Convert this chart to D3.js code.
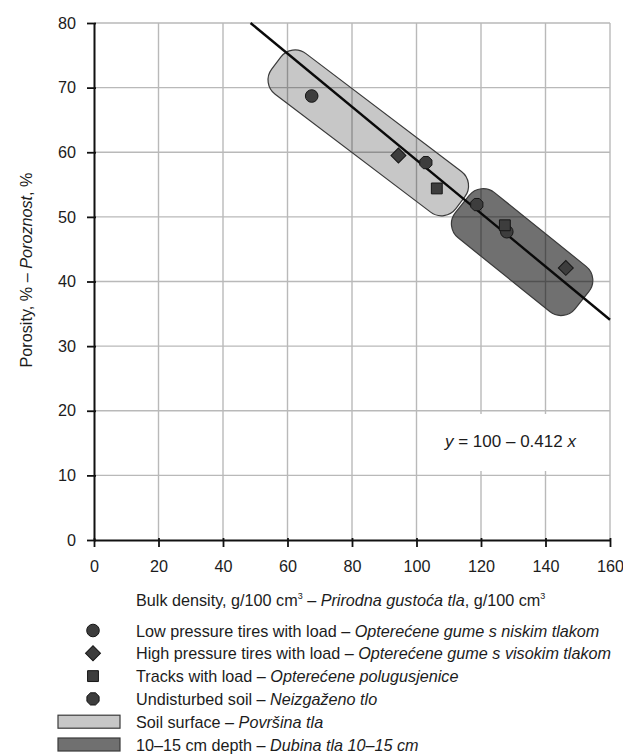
<!DOCTYPE html>
<html>
<head>
<meta charset="utf-8">
<script src="https://cdn.jsdelivr.net/npm/d3@7"></script>
<style>
  html, body { margin: 0; padding: 0; background: #fff; }
  svg { display: block; font-family: Arial, "Liberation Sans", Helvetica, sans-serif; }
</style>
</head>
<body>
<svg id="chart" width="623" height="756"></svg>
<script>
// Tick values
const xTicks = [0, 20, 40, 60, 80, 100, 120, 140, 160];
const yTicks = [0, 10, 20, 30, 40, 50, 60, 70, 80];

// Measurements: [bulk density g/100 cm3, porosity %], first soil surface, then 10–15 cm depth
const lowPressure  = [[67.5, 68.7], [128.0, 47.7]];
const highPressure = [[94.4, 59.5], [146.3, 42.1]];
const tracks       = [[106.3, 54.4], [127.4, 48.7]];
const undisturbed  = [[102.9, 58.4], [118.7, 51.9]];

// Regression line y = 100 - 0.412 x
const fitIntercept = 100;
const fitSlope = -0.412;

// Zones drawn as rounded bands between two axis end points (data units)
const surfaceZone = [[56.5, 73.8], [113.6, 52.2]];
const depthZone   = [[114.2, 52.0], [151.3, 37.1]];

const svg = d3.select("#chart");
const plotLeft = 94, plotRight = 610, plotTop = 23, plotBottom = 540;
const textColor = "#1c1c1c", fontSize = 16.2;

const x = d3.scaleLinear().domain([0, 160]).range([plotLeft, plotRight]);
const y = d3.scaleLinear().domain([0, 80]).range([plotBottom, plotTop]);

// Grid
const grid = svg.append("g");
grid.selectAll("line.v").data(xTicks.filter(d => d > 0)).join("line")
  .attr("x1", d => x(d)).attr("x2", d => x(d))
  .attr("y1", plotTop).attr("y2", plotBottom)
  .attr("stroke", "#b9b9b9").attr("stroke-width", 1.4);
grid.selectAll("line.h").data(yTicks.filter(d => d > 0)).join("line")
  .attr("x1", plotLeft).attr("x2", plotRight)
  .attr("y1", d => y(d)).attr("y2", d => y(d))
  .attr("stroke", "#b9b9b9").attr("stroke-width", 1.4);

// Zones
function drawZone(ends, opacity, halfWidth) {
  const p1 = [x(ends[0][0]), y(ends[0][1])];
  const p2 = [x(ends[1][0]), y(ends[1][1])];
  const len = Math.hypot(p2[0] - p1[0], p2[1] - p1[1]);
  const ang = Math.atan2(p2[1] - p1[1], p2[0] - p1[0]) * 180 / Math.PI;
  const cx = (p1[0] + p2[0]) / 2, cy = (p1[1] + p2[1]) / 2;
  svg.append("rect")
    .attr("x", -len / 2).attr("y", -halfWidth)
    .attr("width", len).attr("height", halfWidth * 2)
    .attr("rx", 18).attr("ry", 18)
    .attr("transform", `translate(${cx},${cy}) rotate(${ang})`)
    .attr("fill", "#000").attr("fill-opacity", opacity)
    .attr("stroke", "#3a3a3a").attr("stroke-width", 1.2);
}
drawZone(surfaceZone, 0.22, 25.5);
drawZone(depthZone, 0.56, 29);

// Equation label box
svg.append("rect").attr("x", 425).attr("y", 414).attr("width", 180).attr("height", 57).attr("fill", "#fff");

// Axes
const xAxis = svg.append("g").attr("transform", `translate(0,${plotBottom})`)
  .call(d3.axisBottom(x).tickValues(xTicks).tickSize(7).tickSizeOuter(0).tickPadding(13));
const yAxis = svg.append("g").attr("transform", `translate(${plotLeft},0)`)
  .call(d3.axisLeft(y).tickValues(yTicks).tickSize(7).tickSizeOuter(0).tickPadding(11));
[xAxis, yAxis].forEach(a => {
  a.select(".domain").attr("stroke", "#111").attr("stroke-width", 2);
  a.selectAll(".tick line").attr("stroke", "#111").attr("stroke-width", 1.8);
  a.selectAll(".tick text").attr("font-size", fontSize).attr("fill", textColor)
    .attr("font-family", "Arial, 'Liberation Sans', sans-serif");
});
xAxis.selectAll(".tick line").attr("y1", -2);
yAxis.selectAll(".tick line").attr("x1", 2);

// Regression line
const xStart = (80 - fitIntercept) / fitSlope;
svg.append("line")
  .attr("x1", x(xStart)).attr("y1", y(fitIntercept + fitSlope * xStart))
  .attr("x2", x(160)).attr("y2", y(fitIntercept + fitSlope * 160))
  .attr("stroke", "#0a0a0a").attr("stroke-width", 2.4);

// Marker shapes
const markerFill = "#3d3d3d", markerStroke = "#161616";
function octagonPath(r) {
  const pts = d3.range(8).map(i => {
    const a = Math.PI / 8 + i * Math.PI / 4;
    return [r * Math.cos(a), r * Math.sin(a)];
  });
  return "M" + pts.map(p => p.join(",")).join("L") + "Z";
}
const shapes = {
  circle: d3.symbol(d3.symbolCircle, 6.3 * 6.3 * Math.PI)(),
  diamond: d3.symbol(d3.symbolSquare, 112)(),
  square: d3.symbol(d3.symbolSquare, 118)(),
  octagon: octagonPath(6.6)
};
const series = [
  { name: "Low pressure tires with load – ", it: "Opterećene gume s niskim tlakom", shape: "circle", rot: 0, values: lowPressure },
  { name: "High pressure tires with load – ", it: "Opterećene gume s visokim tlakom", shape: "diamond", rot: 45, values: highPressure },
  { name: "Tracks with load – ", it: "Opterećene polugusjenice", shape: "square", rot: 0, values: tracks },
  { name: "Undisturbed soil – ", it: "Neizgaženo tlo", shape: "octagon", rot: 0, values: undisturbed }
];
series.forEach(s => {
  svg.append("g").selectAll("path").data(s.values).join("path")
    .attr("d", shapes[s.shape])
    .attr("transform", d => `translate(${x(d[0])},${y(d[1])}) rotate(${s.rot})`)
    .attr("fill", markerFill).attr("stroke", markerStroke).attr("stroke-width", 1);
});

// Equation
const eq = svg.append("text").attr("x", 445).attr("y", 447).attr("font-size", 17).attr("fill", textColor);
eq.append("tspan").attr("font-style", "italic").text("y");
eq.append("tspan").text(" = 100 – 0.412 ");
eq.append("tspan").attr("font-style", "italic").text("x");

// Y-axis title
const yt = svg.append("text").attr("transform", "translate(32,270) rotate(-90)")
  .attr("text-anchor", "middle").attr("font-size", fontSize).attr("fill", textColor);
yt.append("tspan").text("Porosity, % – ");
yt.append("tspan").attr("font-style", "italic").text("Poroznost");
yt.append("tspan").text(", %");

// X-axis title
const xt = svg.append("text").attr("x", 136).attr("y", 606).attr("font-size", fontSize).attr("fill", textColor);
xt.append("tspan").text("Bulk density, g/100 cm");
xt.append("tspan").attr("font-size", 9).attr("dy", -7).text("3");
xt.append("tspan").attr("dy", 7).text(" – ");
xt.append("tspan").attr("font-style", "italic").text("Prirodna gustoća tla");
xt.append("tspan").text(", g/100 cm");
xt.append("tspan").attr("font-size", 9).attr("dy", -7).text("3");

// Legend
const legendBase = 636.5, legendStep = 22.8, legendX = 136, symX = 93;
series.forEach((s, i) => {
  const by = legendBase + i * legendStep;
  svg.append("path").attr("d", shapes[s.shape])
    .attr("transform", `translate(${symX},${by - 6}) rotate(${s.rot})`)
    .attr("fill", markerFill).attr("stroke", markerStroke).attr("stroke-width", 1);
  const t = svg.append("text").attr("x", legendX).attr("y", by).attr("font-size", fontSize).attr("fill", textColor);
  t.append("tspan").text(s.name);
  t.append("tspan").attr("font-style", "italic").text(s.it);
});
const zoneLegend = [
  { name: "Soil surface – ", it: "Površina tla", opacity: 0.22 },
  { name: "10–15 cm depth – ", it: "Dubina tla 10–15 cm", opacity: 0.56 }
];
zoneLegend.forEach((z, j) => {
  const by = legendBase + (series.length + j) * legendStep;
  svg.append("rect").attr("x", 58).attr("y", by - 12.5).attr("width", 62).attr("height", 13)
    .attr("fill", "#000").attr("fill-opacity", z.opacity)
    .attr("stroke", "#3a3a3a").attr("stroke-width", 1.2);
  const t = svg.append("text").attr("x", legendX).attr("y", by).attr("font-size", fontSize).attr("fill", textColor);
  t.append("tspan").text(z.name);
  t.append("tspan").attr("font-style", "italic").text(z.it);
});
</script>
</body>
</html>
